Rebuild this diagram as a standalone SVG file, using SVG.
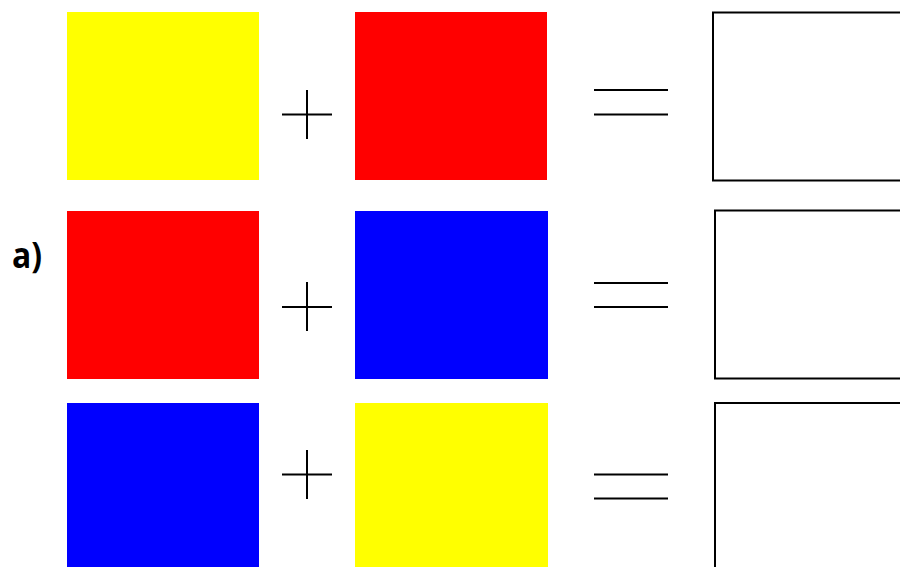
<svg xmlns="http://www.w3.org/2000/svg" width="900" height="567" viewBox="0 0 900 567">
<style>
.op{stroke:#000;stroke-width:2;fill:none}
.box{stroke:#000;stroke-width:2;fill:#fff}
.lbl{font-family:"Open Sans","Liberation Sans",sans-serif;font-weight:bold;font-size:36px;fill:#000}
</style>
<rect width="900" height="567" fill="#fff"/>
<text class="lbl" x="12" y="268" textLength="30" lengthAdjust="spacingAndGlyphs">a)</text>
<g id="row1">
<rect id="r1a" x="67" y="12" width="192" height="168" fill="#ffff00"/>
<path class="op" d="M282 114.5H332M307 90V139"/>
<rect id="r1b" x="355" y="12" width="192" height="168" fill="#ff0000"/>
<path class="op" d="M594 90H668M594 114.5H668"/>
<rect class="box" x="713" y="12.5" width="200" height="168"/>
</g>
<g id="row2">
<rect id="r2a" x="67" y="211" width="192" height="168" fill="#ff0000"/>
<path class="op" d="M282 307H332M307 282V331"/>
<rect id="r2b" x="355" y="211" width="193" height="168" fill="#0000ff"/>
<path class="op" d="M594 283H668M594 307H668"/>
<rect class="box" x="715" y="210.5" width="200" height="168"/>
</g>
<g id="row3">
<rect id="r3a" x="67" y="403" width="192" height="170" fill="#0000ff"/>
<path class="op" d="M282 474.5H332M307 450V499"/>
<rect id="r3b" x="355" y="403" width="193" height="170" fill="#ffff00"/>
<path class="op" d="M594 474.5H668M594 498.5H668"/>
<rect class="box" x="715" y="403" width="200" height="180"/>
</g>
</svg>
